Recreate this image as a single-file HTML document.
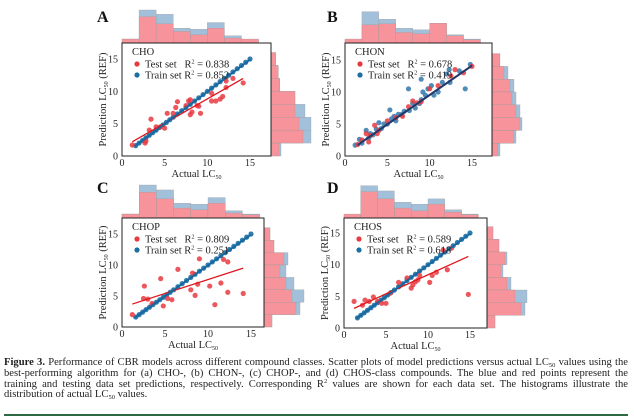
<!DOCTYPE html>
<html><head><meta charset="utf-8">
<style>
body{margin:0;background:#fff;width:634px;height:418px;overflow:hidden;position:relative;font-family:"Liberation Serif",serif}
#cap{position:absolute;left:4px;top:358px;width:624px;font-size:10.6px;line-height:10.8px;color:#222}
#cap div{text-align:justify;text-align-last:justify;white-space:nowrap;height:10.8px}
#cap div.last{text-align-last:left}
#cap sub,#cap sup{font-size:6.5px;line-height:0;vertical-align:baseline;position:relative}
#cap sub{top:2px}
#cap sup{top:-4px}
#rule{position:absolute;left:4px;top:414px;width:624px;height:2px;background:#2e6b45}
</style></head><body>
<svg id="fig" width="634" height="355" style="position:absolute;left:0;top:0" font-family="Liberation Serif, serif"></svg>
<div id="cap">
<div><b>Figure 3.</b> Performance of CBR models across different compound classes. Scatter plots of model predictions versus actual LC<sub>50</sub> values using the</div>
<div>best-performing algorithm for (a) CHO-, (b) CHON-, (c) CHOP-, and (d) CHOS-class compounds. The blue and red points represent the</div>
<div>training and testing data set predictions, respectively. Corresponding R<sup>2</sup> values are shown for each data set. The histograms illustrate the</div>
<div class="last">distribution of actual LC<sub>50</sub> values.</div>
</div>
<div id="rule"></div>
<script>
const tickVals=[0,5,10,15];
const labels=["A","B","C","D"];
const classes=["CHO","CHON","CHOP","CHOS"];
const r2Test=["0.838","0.678","0.809","0.589"];
const r2Train=["0.852","0.419","0.251","0.618"];
const testXA=[1.2,2.7,2.8,3.2,3.4,4,4.5,5,5.3,6,6.3,6.5,7.5,7.8,8,8,8.2,8.8,9,9.2,10.5,10.5,11,11.5,11.8,12.2,12.2,13,14.2];
const testYA=[1.7,2,2.3,4,5.7,4.5,4.5,4.3,6.6,6.6,7.5,8.4,7.8,8.5,6.4,8.7,6.8,7.8,7.7,6.6,8.5,9.7,8.5,8.8,9.2,10.6,11.6,12,11.3];
const testXB=[1.5,2,2.5,3,3.5,4,2.8,5,6,7.5,8,8.5,9,10,11,12.5,13,14,15,3.8,6.8];
const testYB=[1.8,2.5,3.5,3.2,4.8,4,2.2,5.5,6,7.7,8.6,8.3,8.5,10.5,11,12.5,13.5,13,14,3.5,6.2];
const testXC=[1.2,2.5,2.6,3,3.5,4.5,4.8,5.3,5.8,6.5,8,8.2,8.5,8.8,9,10.2,10.8,11.5,11.8,12.3,12.3,14.1];
const testYC=[2,4.6,6.6,4.5,3.8,7.8,3.4,4.6,4.4,9.3,6,8.7,5.1,6.9,11,6.6,3.6,7.1,10.9,5.6,10.5,5.4];
const testXD=[1.2,2.2,2.5,3,3.5,4.5,5,5.5,6.5,8,8.2,8.5,8.8,9,10.2,10.5,11,11.8,12.3,12.8,14.8,4,7.5];
const testYD=[4.2,3.6,4.4,4.2,4.9,3.9,3.9,5.5,7.2,6.3,6.8,7.3,7.6,8.3,7.2,8.3,8.8,12.3,9.2,12.6,5.3,4.2,7.9];
const trainX=[1.6,2,2.4,2.8,3.2,3.6,4,4.4,4.8,5.2,5.6,6,6.5,7,7.5,8,8.5,9,9.5,10,10.5,11,11.5,12,12.5,13,13.5,14,14.5,15];
const trainY=[1.6,2,2.4,2.8,3.2,3.6,4,4.4,4.8,5.2,5.6,6,6.5,7,7.5,8,8.5,9,9.5,10,10.5,11,11.5,12,12.5,13,13.5,14,14.5,15];
const trainXB=[1.2,1.7,2,2.5,2.8,3,3.3,3.7,4,4.3,4.6,5,5.3,5.5,5.8,6,6.3,6.7,7,7.6,8,8.3,8.8,9,9.2,9.5,9.8,10.2,10.5,11,11.5,12,12.3,12.4,14.2,14.8,13.5,9,7.5];
const trainYB=[1.7,2.6,2,4,2.8,3.5,3.3,4.2,5.2,4.3,5,5,7.2,5.8,6.2,5.5,6.5,6.5,7,7.1,8.2,7.5,8.2,8.8,10,9.5,10.5,11,9.5,10,11.5,12.8,13.5,11.5,10.5,14.3,13.3,12,10.5];
const testFitX=[[1.2,14.2],[1.5,15],[1.2,14.1],[1.2,14.8]];
const testFitY=[[2.2,12],[1.8,14.2],[3.7,9.5],[3.1,11.3]];
const trainFitY=[[1.5,14.9],[1.7,14.1],[1.5,14.9],[1.5,14.9]];
const histTopBlue=[[12,100,87,45,42,62,22,10],[10,95,72,45,40,60,25,12],[12,100,85,45,42,62,22,12],[10,98,82,48,42,58,25,12]];
const histTopRed=[[12,80,58,35,25,45,15,12],[12,55,58,32,28,60,22,10],[12,78,58,30,25,45,15,10],[12,80,58,30,22,42,18,10]];
const histRightBlue=[[12,18,22,60,85,100,100,25],[20,40,55,60,70,75,60,20],[15,25,60,55,75,100,90,20],[15,30,50,40,60,100,95,20]];
const histRightRed=[[12,18,22,60,60,70,80,20],[18,30,45,50,60,70,55,15],[15,25,50,40,55,70,80,20],[15,30,45,35,50,70,85,20]];
const panels=[
 {x0:122,x15:250,y0:156,y15:59,right:271,top:43,lx:97,ly:22,testX:testXA,testY:testYA,trX:trainX,trY:trainY},
 {x0:345,x15:472,y0:156,y15:60,right:492,top:43,lx:327,ly:22,testX:testXB,testY:testYB,trX:trainXB,trY:trainYB},
 {x0:122,x15:251,y0:327,y15:234,right:264,top:218,lx:97,ly:193,testX:testXC,testY:testYC,trX:trainX,trY:trainY},
 {x0:344,x15:470,y0:328,y15:233,right:487,top:218,lx:327,ly:193,testX:testXD,testY:testYD,trX:trainX,trY:trainY}];
const NS="http://www.w3.org/2000/svg";
const svg=document.getElementById("fig");
function mk(tag,attrs,parent,text){const e=document.createElementNS(NS,tag);for(const k in attrs)e.setAttribute(k,attrs[k]);if(text!==undefined)e.textContent=text;(parent||svg).appendChild(e);return e;}
panels.forEach((p,i)=>{
 const g=mk("g",{});
 
 
 const sx=v=>p.x0+v*(p.x15-p.x0)/15, sy=v=>p.y0-v*(p.y0-p.y15)/15;
 const bw=sx(2)-sx(0);
 histTopBlue[i].forEach((h,j)=>{
  const b=mk("rect",{x:p.x0+j*bw,y:p.top-h*0.33,width:bw,height:h*0.33,fill:"#a3c0da",stroke:"#999","stroke-width":0.3},g);
  
  
  const hr=histTopRed[i][j];
  const r=mk("rect",{x:p.x0+j*bw,y:p.top-hr*0.33,width:bw,height:hr*0.33,fill:"#f7939a",stroke:"#999","stroke-width":0.3},g);
  
  
 });
 const bh=sy(0)-sy(2);
 histRightBlue[i].forEach((h,j)=>{
  const yy=sy(16-2*j);
  const b=mk("rect",{x:p.right,y:yy,width:h*0.4,height:bh,fill:"#a3c0da",stroke:"#999","stroke-width":0.3},g);
  
  
  const r=mk("rect",{x:p.right,y:yy,width:histRightRed[i][j]*0.4,height:bh,fill:"#f7939a",stroke:"#999","stroke-width":0.3},g);
  
  
 });
 const box=mk("rect",{x:p.x0,y:p.top,width:p.right-p.x0,height:p.y0-p.top,fill:"#fff",stroke:"#222","stroke-width":1},g);
 
 
 tickVals.forEach(t=>{
  const tx=mk("text",{x:sx(t),y:p.y0+10,"font-size":10,"text-anchor":"middle",fill:"#222"},g,String(t));
  
  
  const ty=mk("text",{x:p.x0-4,y:sy(t)+3.5,"font-size":10,"text-anchor":"end",fill:"#222"},g,String(t));
  
  
 });
 const xl=mk("text",{x:(p.x0+p.right)/2,y:p.y0+21,"font-size":10.5,"text-anchor":"middle",fill:"#222"},g);
 xl.innerHTML='Actual LC<tspan font-size="6" dy="2">50</tspan>';
 
 
 const cy=(p.top+p.y0)/2;
 const yl=mk("text",{x:0,y:0,"font-size":10.5,"text-anchor":"middle",fill:"#222",transform:`translate(${p.x0-16},${cy}) rotate(-90)`},g);
 yl.innerHTML='Prediction LC<tspan font-size="6" dy="2">50</tspan><tspan dy="-2"> (REF)</tspan>';
 
 
 const lt=mk("text",{x:p.lx,y:p.ly,"font-size":16,"font-weight":"bold",fill:"#111"},g,labels[i]);
 
 
 p.trX.forEach((x,k)=>{
  const c=mk("circle",{cx:sx(x),cy:sy(p.trY[k]),r:2.6,fill:i==1?"#3d7fb0":"#1b6fa3","fill-opacity":0.9},g);
  
  
 });
 p.testX.forEach((x,k)=>{
  const c=mk("circle",{cx:sx(x),cy:sy(p.testY[k]),r:2.6,fill:"#e8393f","fill-opacity":0.85},g);
  
  
 });
 const lr=mk("line",{x1:sx(testFitX[i][0]),y1:sy(testFitY[i][0]),x2:sx(testFitX[i][1]),y2:sy(testFitY[i][1]),stroke:i==1?"#3a2f6a":"#e0141c","stroke-width":1.3},g);
 
 
 const lb=mk("line",{x1:sx(1.5),y1:sy(trainFitY[i][0]),x2:sx(15),y2:sy(trainFitY[i][1]),stroke:i==1?"#1e3a6a":"#1566a0","stroke-width":1.8},g);
 
 
 const lg=mk("g",{},g);
 
 
 mk("text",{x:p.x0+10,y:p.top+12,"font-size":10.5,fill:"#222"},lg,classes[i]);
 mk("circle",{cx:p.x0+15,cy:p.top+21,r:2.6,fill:"#e8393f"},lg);
 const t1=mk("text",{x:p.x0+23,y:p.top+24.5,"font-size":10.5,fill:"#222"},lg);
 t1.innerHTML='Test set&#160;&#160; R<tspan font-size="6" dy="-4">2</tspan><tspan dy="4"> = '+r2Test[i]+'</tspan>';
 mk("circle",{cx:p.x0+15,cy:p.top+32,r:2.6,fill:"#1b6fa3"},lg);
 const t2=mk("text",{x:p.x0+23,y:p.top+35.5,"font-size":10.5,fill:"#222"},lg);
 t2.innerHTML='Train set R<tspan font-size="6" dy="-4">2</tspan><tspan dy="4"> = '+r2Train[i]+'</tspan>';
});
</script>
</body></html>
